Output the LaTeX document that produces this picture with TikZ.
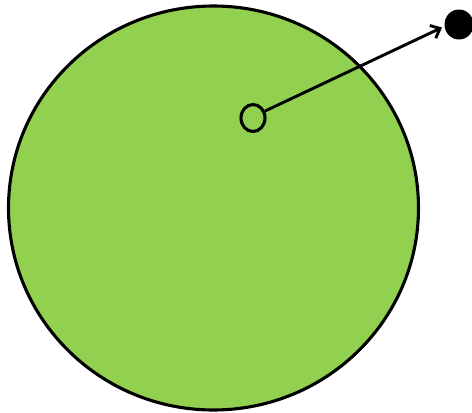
\documentclass[tikz,border=0pt]{standalone}
\usetikzlibrary{arrows.meta,shapes.geometric}
\definecolor{leaf}{HTML}{92D050}
\tikzset{
  outline/.style={draw=black, line width=3.1pt},
  pointer/.style={draw=black, line width=2.9pt, -{Straight Barb[length=8pt,width=14pt,line width=2.9pt]}}
}
\begin{document}
\begin{tikzpicture}[x=1pt,y=-1pt]
\useasboundingbox (0,0) rectangle (472,413);
\node[outline, fill=leaf, ellipse, minimum width=410pt, minimum height=404pt, inner sep=0pt] (big) at (213.5,208) {};
\node[outline, ellipse, minimum width=24pt, minimum height=27pt, inner sep=0pt] (hole) at (253,118) {};
\node[fill=black, ellipse, minimum width=29pt, minimum height=30pt, inner sep=0pt] (dot) at (459,24.5) {};
\coordinate (tip) at (442,27.5);
\draw[pointer] (hole.30) -- (tip);
\end{tikzpicture}
\end{document}
